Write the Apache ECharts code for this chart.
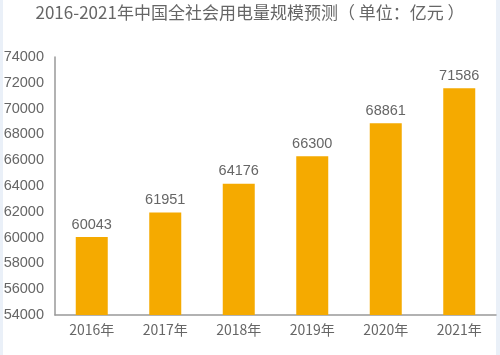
<!DOCTYPE html>
<html>
<head>
<meta charset="utf-8">
<script src="https://cdn.jsdelivr.net/npm/echarts@6/dist/echarts.min.js"></script>
<style>
html,body{margin:0;padding:0;background:#fff;}
#main{width:500px;height:355px;}
</style>
</head>
<body>
<div id="main"></div>
<script>
var titleText = '2016-2021年中国全社会用电量规模预测（ 单位：亿元 ）';
var categories = ['2016年','2017年','2018年','2019年','2020年','2021年'];
var values = [60043, 61951, 64176, 66300, 68861, 71586];
var yMin = 54000, yMax = 74000, yInterval = 2000;

var chart = echarts.init(document.getElementById('main'), null, {renderer:'canvas'});
chart.setOption({
  backgroundColor: '#ffffff',
  animation: false,
  title: {
    text: titleText,
    left: 'center',
    top: -1,
    textStyle: {color: '#666', fontSize: 17, fontWeight: 'normal', fontFamily: '"Noto Sans CJK SC", sans-serif'}
  },
  graphic: [
    {type:'rect', left:0, top:0, shape:{width:3, height:355}, style:{fill:'#eaf0f8'}},
    {type:'rect', right:0, top:0, shape:{width:4, height:355}, style:{fill:'#eaf0f8'}}
  ],
  grid: {left: 55, right: 4, top: 57, bottom: 40, containLabel: false},
  xAxis: {
    type: 'category',
    data: categories,
    axisLine: {lineStyle: {color: '#999', width: 1.5}},
    axisTick: {show: false},
    axisLabel: {color: '#666', fontSize: 14, margin: 8, fontFamily: '"Noto Sans CJK SC", sans-serif'}
  },
  yAxis: {
    type: 'value',
    min: yMin, max: yMax, interval: yInterval,
    axisLine: {show: true, lineStyle: {color: '#999', width: 1.5}},
    axisTick: {show: false},
    splitLine: {show: false},
    axisLabel: {color: '#666', fontSize: 14.5, margin: 11, formatter: function(v){return String(v);}, fontFamily: 'Arial, "Liberation Sans", sans-serif'}
  },
  series: [{
    type: 'bar',
    data: values,
    barWidth: 32,
    itemStyle: {color: '#F5AA00'},
    label: {show: true, position: 'top', color: '#666', fontSize: 14.5, distance: 5, fontFamily: 'Arial, "Liberation Sans", sans-serif'}
  }]
});
</script>
</body>
</html>
